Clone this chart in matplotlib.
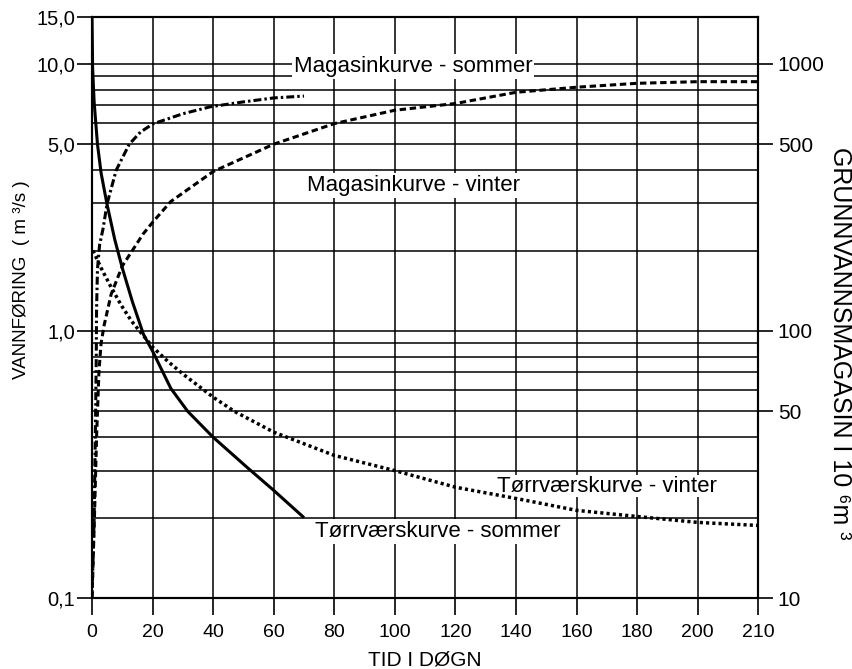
import numpy as np
import matplotlib
matplotlib.use("Agg")
import matplotlib.pyplot as plt
from matplotlib.ticker import FixedLocator, LogLocator, NullFormatter

plt.rcParams['font.family'] = ['Liberation Sans', 'DejaVu Sans']

# tid i døgn
x_ticks = [0, 20, 40, 60, 80, 100, 120, 140, 160, 180, 200, 210]

# vannføring (m3/s), venstre akse
q_ticks = [0.1, 1.0, 5.0, 10.0, 15.0]
q_labels = ["0,1", "1,0", "5,0", "10,0", "15,0"]

# grunnvannsmagasin (10^6 m3), høyre akse
m_ticks = [10, 50, 100, 500, 1000]
m_labels = ["10", "50", "100", "500", "1000"]

# Tørrværskurve - sommer (heltrukket)
ts_x = [0, 0.2, 0.7, 1.8, 3, 4.9, 7.5, 10, 13.3, 17, 20, 26, 31.6, 40, 51, 60, 70]
ts_q = [15, 9.6, 7.2, 5.0, 3.9, 3.0, 2.2, 1.72, 1.29, 0.97, 0.84, 0.61, 0.50, 0.40, 0.31, 0.253, 0.20]

# Tørrværskurve - vinter (prikket)
tv_x = [0.3, 3, 6, 9.6, 13, 18.3, 20, 25, 30, 40, 47, 60, 80, 100, 120, 140, 160, 180, 200, 210]
tv_q = [2.0, 1.72, 1.48, 1.25, 1.09, 0.92, 0.87, 0.77, 0.69, 0.565, 0.50, 0.418, 0.342, 0.30,
        0.26, 0.236, 0.213, 0.202, 0.192, 0.187]

# Magasinkurve - sommer (strek-prikk)
ms_x = [0, 0.7, 1.2, 1.4, 1.5, 1.8, 2.5, 3.6, 5, 8, 12.3, 16, 20, 30, 39, 50, 60, 70]
ms_m = [10, 20, 50, 80, 120, 170, 210, 240, 300, 400, 500, 555, 595, 650, 690, 720, 745, 757]

# Magasinkurve - vinter (stiplet)
mv_x = [0, 0.8, 1.5, 2.3, 3, 4, 6.3, 10, 16.8, 20, 26, 40, 60, 80, 100, 120, 140, 160, 180, 200, 210]
mv_m = [10, 20, 40, 71, 90, 105, 137, 175, 230, 255, 305, 395, 500, 597, 670, 710, 782, 817, 845, 857, 857]


def fwd(x):
    x = np.asarray(x, dtype=float)
    return np.where(x <= 200, x, 200 + 2 * (x - 200))


def inv(x):
    x = np.asarray(x, dtype=float)
    return np.where(x <= 200, x, 200 + (x - 200) / 2)


fig = plt.figure(figsize=(8.52, 6.69), dpi=100)
ax = fig.add_axes([0.108, 0.106, 0.782, 0.869])
ax.set_xscale('function', functions=(fwd, inv))
ax.set_yscale('log')
ax.set_xlim(0, 210)
ax.set_ylim(0.1, 15)

ax2 = ax.twinx()
ax2.set_yscale('log')
ax2.set_ylim(10, 1500)

# rutenett
ax.xaxis.set_major_locator(FixedLocator(x_ticks))
ax.set_xticklabels([str(t) for t in x_ticks])
ax.yaxis.set_major_locator(FixedLocator(q_ticks))
ax.set_yticklabels(q_labels)
ax.yaxis.set_minor_locator(LogLocator(base=10, subs=np.arange(2, 10)))
ax.yaxis.set_minor_formatter(NullFormatter())
ax.grid(True, which='major', axis='x', color='black', lw=1.1)
ax.grid(True, which='both', axis='y', color='black', lw=1.1)
ax.tick_params(axis='y', which='minor', length=0)
ax.tick_params(axis='y', which='major', direction='out', length=11, width=1.2,
               labelsize=14.5, pad=1)
ax.tick_params(axis='x', which='major', direction='out', length=12, width=1.2,
               labelsize=14, pad=7)

ax2.yaxis.set_major_locator(FixedLocator(m_ticks))
ax2.set_yticklabels(m_labels)
ax2.yaxis.set_minor_locator(FixedLocator([]))
ax2.tick_params(axis='y', which='major', direction='out', length=11, width=1.2,
                labelsize=15, pad=3)

for a in (ax, ax2):
    for s in a.spines.values():
        s.set_linewidth(1.5)

# kurver
ax.plot(ts_x, ts_q, color='black', lw=2.2, solid_capstyle='butt')
ax.plot(tv_x, tv_q, color='black', lw=2.5, linestyle=(0, (0.9, 0.9)))
ax2.plot(ms_x, ms_m, color='black', lw=2.2, linestyle=(0, (2.6, 1.0, 0.8, 1.0)))
ax2.plot(mv_x, mv_m, color='black', lw=2.2, linestyle=(0, (2.1, 1.2)))

# tekst over rutenettet, men under kurvene
box = dict(facecolor='white', edgecolor='none', pad=1.5)
ax.text(106, 9.8, "Magasinkurve - sommer", ha='center', va='center', fontsize=16,
        bbox=box, zorder=1.8)
ax.text(106, 3.5, "Magasinkurve - vinter", ha='center', va='center', fontsize=16,
        bbox=box, zorder=1.8)
ax.text(170, 0.262, "Tørrværskurve - vinter", ha='center', va='center', fontsize=16,
        bbox=dict(facecolor='white', edgecolor='none', pad=0.3), zorder=1.8)
ax.text(114, 0.178, "Tørrværskurve - sommer", ha='center', va='center', fontsize=16,
        bbox=box, zorder=1.8)

fig.text(425 / 852, 1 - 660 / 669, "TID I DØGN", fontsize=15,
         ha='center', va='center')
fig.text(22 / 852, 1 - 280 / 669, "VANNFØRING  ( m ³/s )", fontsize=13.5,
         rotation=90, ha='center', va='center')
fig.text(840 / 852, 1 - 343 / 669, "GRUNNVANNSMAGASIN I 10 ⁶m ³", fontsize=18,
         rotation=270, ha='center', va='center')

fig.savefig("out.png", dpi=100)
